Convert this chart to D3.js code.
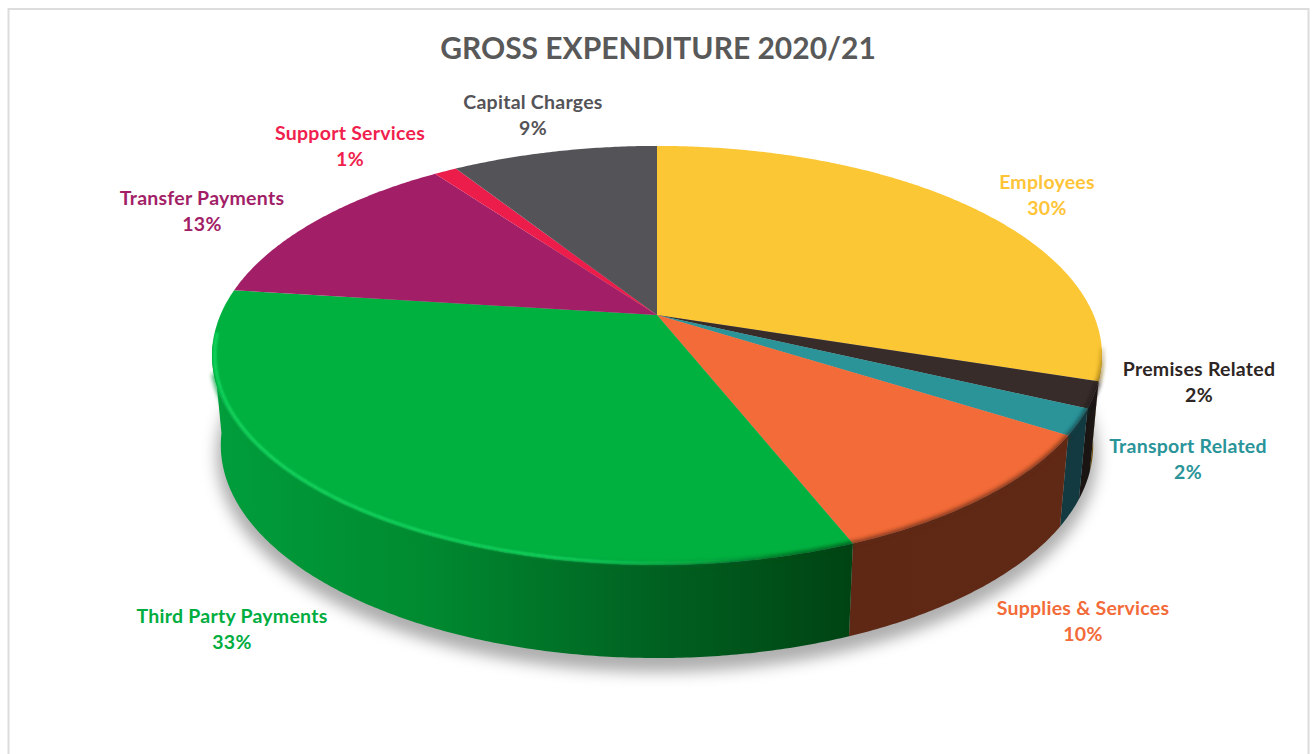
<!DOCTYPE html>
<html>
<head>
<meta charset="utf-8">
<title>Gross Expenditure 2020/21</title>
<script src="https://cdn.jsdelivr.net/npm/d3@7"></script>
<style>
  html, body { margin: 0; padding: 0; background: #fff; }
  svg { display: block; }
  text { font-family: Lato, "Open Sans", sans-serif; font-weight: 700; }
</style>
</head>
<body>
<svg id="chart" width="1312" height="754"></svg>
<script>
// Budget categories and their share of gross expenditure, in percent
const categories = ["Employees", "Premises Related", "Transport Related", "Supplies & Services",
                    "Third Party Payments", "Transfer Payments", "Support Services", "Capital Charges"];
const shares = [30, 2, 2, 10, 33, 13, 1, 9];

// Slice appearance
const faceColors = ["#FCC734", "#372C2A", "#2A9499", "#F26B38", "#00B140", "#A21F68", "#EC1C4B", "#545358"];
const labelColors = ["#FFC437", "#2E2624", "#2A9499", "#F26B38", "#00AD3F", "#A21F68", "#F01F4E", "#545358"];
const wallStops = [
  ["#8A6A12", "#6E540E"], ["#1E1816", "#1A1513"], ["#123A40", "#123A40"], ["#602916", "#5E2814"],
  ["#004313", "#006422", "#008A30", "#009E3C"], ["#5A1038", "#5A1038"], ["#801028", "#801028"], ["#2C2B2E", "#2C2B2E"]
];

// Centre of each two-line label
const labelCentres = [[1047, 196], [1199, 383], [1188, 460], [1083, 622], [232, 630], [202, 212], [350, 147], [533, 116]];

const svg = d3.select("#chart");
const defs = svg.append("defs");

const addBlur = (id, dev) => defs.append("filter")
  .attr("id", id).attr("filterUnits", "userSpaceOnUse")
  .attr("x", 0).attr("y", 0).attr("width", 1312).attr("height", 754)
  .append("feGaussianBlur").attr("stdDeviation", dev);
addBlur("soft-shadow", 8);
addBlur("soft-edge", 2);
addBlur("soft-glint", 0.8);

// The disc is seen in perspective: a unit circle is mapped on to the screen by a homography.
const lean = 0.193;
const project = (disc) => (angle, r = 1) => {
  const u = r * Math.sin(angle), v = -r * Math.cos(angle);
  const w = 1 - lean * v;
  return [disc.cx + disc.a * u / w, disc.cy + disc.b * v / w];
};
const topRim = project({ cx: 657, cy: 315, a: 436.6, b: 201.7 });
const baseRim = project({ cx: 657, cy: 404, a: 428, b: 205 });

const line = d3.line();
const degrees = Math.PI / 180;
const arcAngles = (from, to) => {
  const steps = Math.max(2, Math.ceil((to - from) / (0.5 * degrees)));
  return d3.range(steps + 1).map(i => from + (to - from) * i / steps);
};

const slices = d3.pie().sort(null).value(d => d)(shares);

// Only this part of the wall faces the viewer
const wallFrom = 99 * degrees, wallTo = 262 * degrees;

// Frame around the chart area
svg.append("rect")
  .attr("x", 8.5).attr("y", 9).attr("width", 1300).attr("height", 770)
  .attr("fill", "#fff").attr("stroke", "#dcdcdc").attr("stroke-width", 2);

// Soft shadow cast under the disc
const fullBase = arcAngles(0, 2 * Math.PI).map(a => baseRim(a));
svg.append("path")
  .attr("d", line(fullBase) + "Z")
  .attr("transform", "translate(0,10)")
  .attr("fill", "#000").attr("fill-opacity", 0.3)
  .attr("stroke", "#000").attr("stroke-opacity", 0.3).attr("stroke-width", 6)
  .attr("filter", "url(#soft-shadow)");

// Walls of the slices, each with a horizontal light gradient
const walls = slices.map((s, i) => {
  const from = Math.max(s.startAngle, wallFrom), to = Math.min(s.endAngle, wallTo);
  return { i, from, to, visible: to > from };
}).filter(d => d.visible);

walls.forEach(w => {
  const rimPts = arcAngles(w.from, w.to).map(a => topRim(a));
  const xs = rimPts.map(p => p[0]);
  const stops = wallStops[w.i];
  const grad = defs.append("linearGradient")
    .attr("id", "wall-" + w.i).attr("gradientUnits", "userSpaceOnUse")
    .attr("x1", d3.max(xs)).attr("x2", d3.min(xs)).attr("y1", 0).attr("y2", 0);
  stops.forEach((c, k) => grad.append("stop")
    .attr("offset", k / (stops.length - 1)).attr("stop-color", c));
});

svg.append("g").selectAll("path").data(walls).join("path")
  .attr("d", w => {
    const angles = arcAngles(w.from, w.to);
    return line(angles.map(a => topRim(a)).concat(angles.slice().reverse().map(a => baseRim(a)))) + "Z";
  })
  .attr("fill", w => `url(#wall-${w.i})`);

// Top faces of the slices
svg.append("g").selectAll("path").data(slices).join("path")
  .attr("d", s => {
    const pts = arcAngles(s.startAngle, s.endAngle).map(a => topRim(a));
    return line([topRim(0, 0), ...pts]) + "Z";
  })
  .attr("fill", (s, i) => faceColors[i]);

// The yellow slice's edge darkens gradually as it turns towards the viewer
const yellowEdge = defs.append("linearGradient")
  .attr("id", "edge-0").attr("gradientUnits", "userSpaceOnUse")
  .attr("x1", 0).attr("x2", 0).attr("y1", 335).attr("y2", 378);
[[0, 0], [1, 1]].forEach(([o, a]) => yellowEdge.append("stop")
  .attr("offset", o).attr("stop-color", "#8A6A12").attr("stop-opacity", a));

// Rounded edge: the wall colour bleeds softly into the top face
svg.append("g").selectAll("path").data(walls).join("path")
  .attr("d", w => line(arcAngles(w.from, Math.min(w.to, 254 * degrees)).map(a => topRim(a))))
  .attr("fill", "none")
  .attr("stroke", w => w.i === 0 ? "url(#edge-0)" : `url(#wall-${w.i})`)
  .attr("stroke-width", 3.5)
  .attr("filter", "url(#soft-edge)");

// Bright glint running along the left and front of the largest slice
const glintSlice = slices[4];
const glint = defs.append("linearGradient")
  .attr("id", "glint").attr("gradientUnits", "userSpaceOnUse")
  .attr("x1", 213).attr("x2", 790).attr("y1", 0).attr("y2", 0);
[[0, 1], [0.6, 1], [0.85, 0.4], [1, 0]].forEach(([o, a]) => glint.append("stop")
  .attr("offset", o).attr("stop-color", "#14D65F").attr("stop-opacity", a));
svg.append("path")
  .attr("d", line(arcAngles(glintSlice.startAngle + 5 * degrees, wallTo + 3 * degrees)
    .map(a => topRim(a, 0.994))))
  .attr("fill", "none")
  .attr("stroke", "url(#glint)")
  .attr("stroke-width", 3)
  .attr("filter", "url(#soft-glint)");

// Chart title
svg.append("text")
  .attr("x", 658).attr("y", 59)
  .attr("text-anchor", "middle")
  .attr("font-size", 30)
  .attr("fill", "#595959")
  .text("GROSS EXPENDITURE 2020/21");

// Category and percentage labels
const labels = svg.append("g").selectAll("text").data(slices).join("text")
  .attr("text-anchor", "middle")
  .attr("font-size", 19.5)
  .attr("letter-spacing", 0.25)
  .attr("fill", (s, i) => labelColors[i]);
labels.append("tspan")
  .attr("x", (s, i) => labelCentres[i][0])
  .attr("y", (s, i) => labelCentres[i][1] - 7)
  .text((s, i) => categories[i]);
labels.append("tspan")
  .attr("x", (s, i) => labelCentres[i][0])
  .attr("y", (s, i) => labelCentres[i][1] + 19)
  .text(s => s.value + "%");
</script>
</body>
</html>
